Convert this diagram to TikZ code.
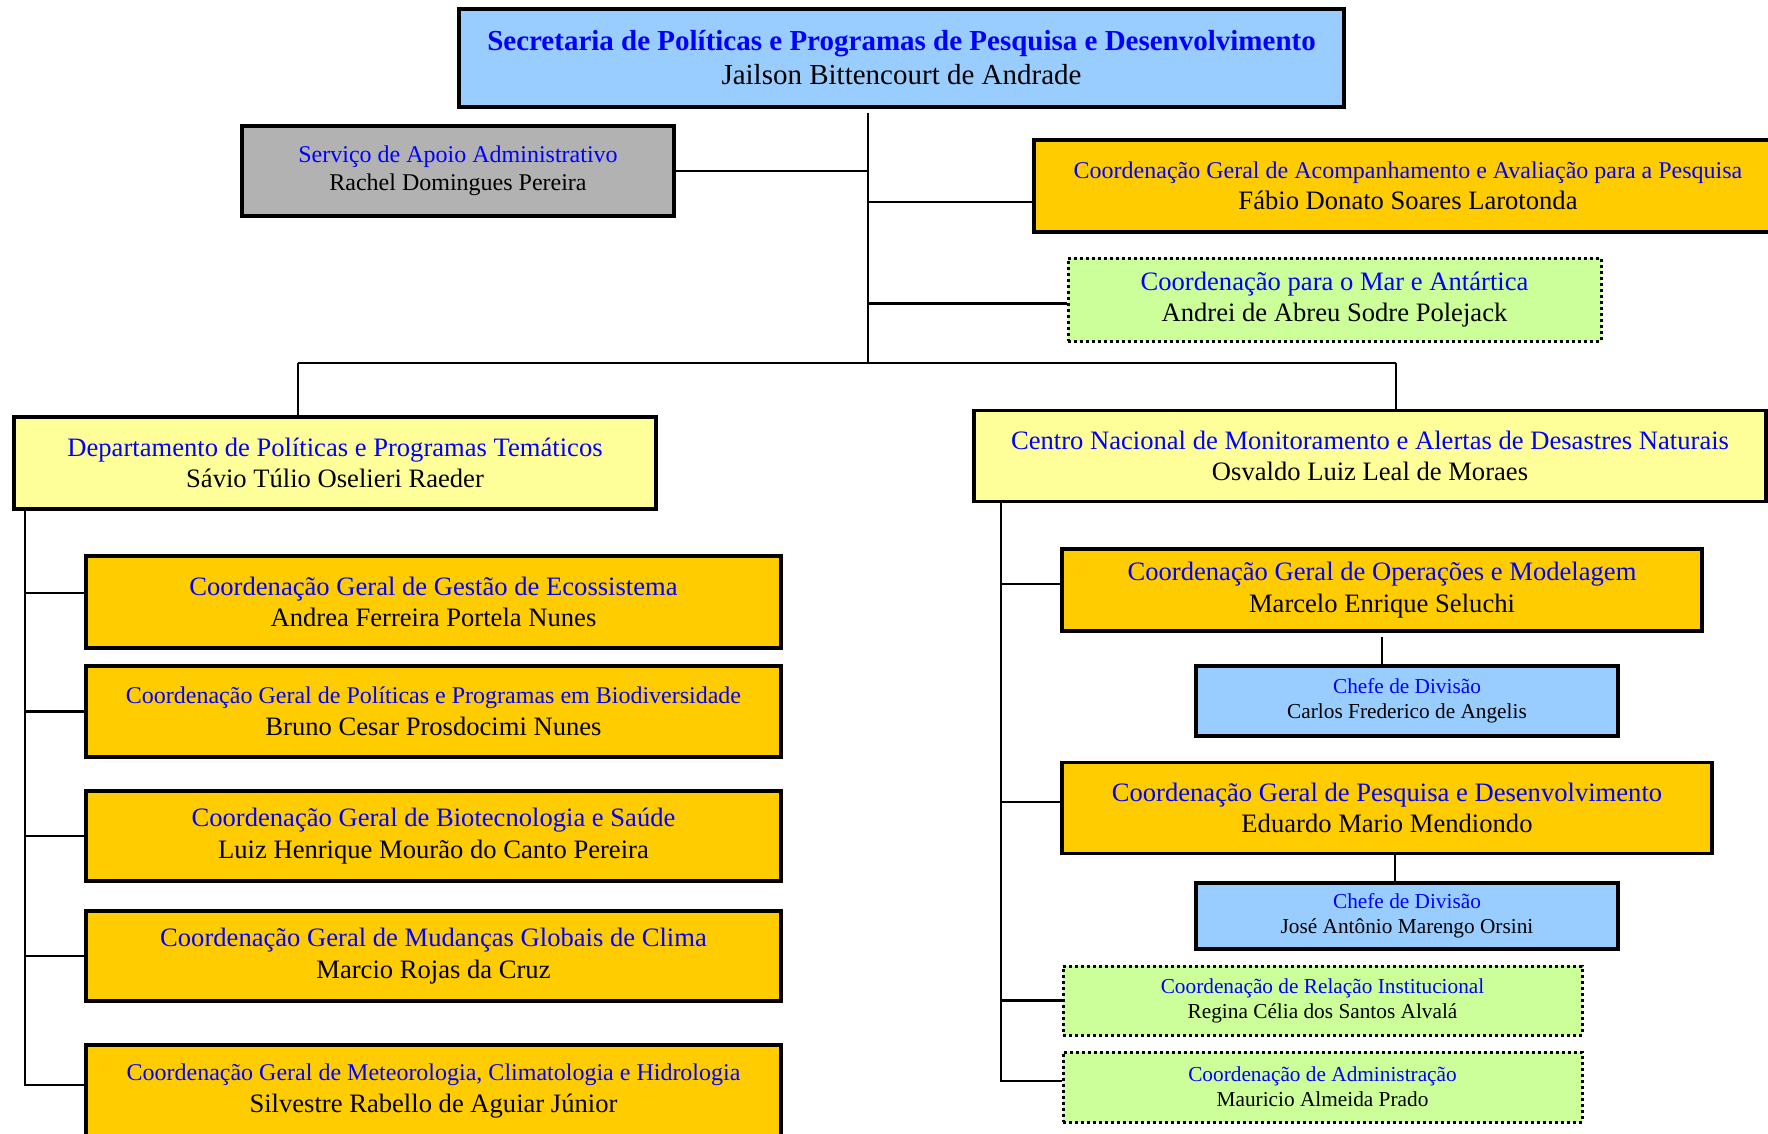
\documentclass[tikz,border=0pt]{standalone}
\usepackage{fontspec}
\setmainfont{Liberation Serif}
\usetikzlibrary{calc}
\usepackage{xcolor}
\definecolor{boxblue}{HTML}{99CCFF}
\definecolor{boxgray}{HTML}{B2B2B2}
\definecolor{boxorange}{HTML}{FFCC00}
\definecolor{boxyellow}{HTML}{FFFF99}
\definecolor{boxgreen}{HTML}{CCFF99}
\definecolor{ttlblue}{HTML}{0000FF}
\newcommand{\sztop}{\fontsize{29}{34}\selectfont}
\newcommand{\szbig}{\fontsize{26.6}{31.6}\selectfont}
\newcommand{\szmid}{\fontsize{24}{28}\selectfont}
\newcommand{\szsmall}{\fontsize{21.3}{25}\selectfont}
\newcommand{\ttl}[1]{\textcolor{ttlblue}{#1}}

\begin{document}
\begin{tikzpicture}[x=1pt, y=-1pt,
            unitbox/.style = {draw, line width=3.5pt, align=center, inner sep=0pt, font=\szbig},
            topbox/.style = {unitbox, fill=boxblue, font=\sztop, minimum width=885pt, minimum height=98pt},
            servbox/.style = {unitbox, fill=boxgray, font=\szmid},
            coordbox/.style = {unitbox, fill=boxorange},
            deptbox/.style = {unitbox, fill=boxyellow},
            divbox/.style = {unitbox, fill=boxblue, font=\szsmall, minimum width=422pt},
            greenbox/.style = {unitbox, fill=boxgreen, line width=3pt, dash pattern=on 3pt off 3pt},
            leftbox/.style = {coordbox, minimum width=695pt},
            link/.style = {line width=2.5pt}
            ]
            \useasboundingbox (0,0) rectangle (1768,1134);

            \coordinate (hub) at (868,363);
            \coordinate (busL) at (298,363);
            \coordinate (busR) at (1396,363);
            \coordinate (lbus) at (25,511);
            \coordinate (rbus) at (1001,503);

            \node[topbox] (sec) at (901.5,58)
                {\textbf{\ttl{Secretaria de Políticas e Programas de Pesquisa e Desenvolvimento}}\\Jailson Bittencourt de Andrade};
            \node[servbox, minimum width=432pt, minimum height=90pt] (serv) at (458,171)
                {\ttl{Serviço de Apoio Administrativo}\\Rachel Domingues Pereira};
            \node[coordbox, minimum width=748pt, minimum height=92pt] (acomp) at (1408,186)
                {\ttl{\szmid Coordenação Geral de Acompanhamento e Avaliação para a Pesquisa}\\Fábio Donato Soares Larotonda};
            \node[greenbox, minimum width=533pt, minimum height=83pt] (mar) at (1334.5,299.5)
                {\ttl{Coordenação para o Mar e Antártica}\\Andrei de Abreu Sodre Polejack};

            \node[deptbox, minimum width=642pt, minimum height=92pt] (dept) at (335,463)
                {\ttl{Departamento de Políticas e Programas Temáticos}\\Sávio Túlio Oselieri Raeder};
            \node[deptbox, minimum width=792pt, minimum height=91pt] (cemaden) at (1370,456)
                {\ttl{Centro Nacional de Monitoramento e Alertas de Desastres Naturais}\\Osvaldo Luiz Leal de Moraes};

            \node[leftbox, minimum height=92pt] (gestao) at (433.5,602)
                {\ttl{Coordenação Geral de Gestão de Ecossistema}\\Andrea Ferreira Portela Nunes};
            \node[leftbox, minimum height=91pt] (biodiv) at (433.5,711.5)
                {\ttl{\szmid Coordenação Geral de Políticas e Programas em Biodiversidade}\\Bruno Cesar Prosdocimi Nunes};
            \node[leftbox, minimum height=90pt] (biotec) at (433.5,836)
                {\ttl{Coordenação Geral de Biotecnologia e Saúde}\\Luiz Henrique Mourão do Canto Pereira};
            \node[leftbox, minimum height=90pt] (clima) at (433.5,956)
                {\ttl{Coordenação Geral de Mudanças Globais de Clima}\\Marcio Rojas da Cruz};
            \node[leftbox, minimum height=92pt] (meteo) at (433.5,1091)
                {\ttl{\szmid Coordenação Geral de Meteorologia, Climatologia e Hidrologia}\\Silvestre Rabello de Aguiar Júnior};

            \node[coordbox, minimum width=640pt, minimum height=82pt] (oper) at (1382,590)
                {\ttl{Coordenação Geral de Operações e Modelagem}\\Marcelo Enrique Seluchi};
            \node[divbox, minimum height=70pt] (div1) at (1407,701)
                {\ttl{Chefe de Divisão}\\Carlos Frederico de Angelis};
            \node[coordbox, minimum width=650pt, minimum height=91pt] (pesq) at (1387,808)
                {\ttl{Coordenação Geral de Pesquisa e Desenvolvimento}\\Eduardo Mario Mendiondo};
            \node[divbox, minimum height=66pt] (div2) at (1407,916)
                {\ttl{Chefe de Divisão}\\José Antônio Marengo Orsini};
            \node[greenbox, font=\szsmall, minimum width=519pt, minimum height=69pt] (relac) at (1322.5,1000.5)
                {\ttl{Coordenação de Relação Institucional}\\Regina Célia dos Santos Alvalá};
            \node[greenbox, font=\szsmall, minimum width=519pt, minimum height=70pt] (admin) at (1322.5,1087)
                {\ttl{Coordenação de Administração}\\Mauricio Almeida Prado};

            \draw[link] ([yshift=-4pt]sec.south -| hub) -- (hub);
            \draw[link] (serv.east) -- (serv.east -| hub);
            \draw[link] ([yshift=-16pt]acomp.west) -- ([yshift=-16pt]acomp.west -| hub);
            \draw[link] ([yshift=-4pt]mar.west) -- ([yshift=-4pt]mar.west -| hub);
            \draw[link] (busL) -- (busR);
            \draw[link] (busL) -- (busL |- dept.north);
            \draw[link] (busR) -- (busR |- cemaden.north);

            \draw[link] (dept.south -| lbus) -- ([yshift=6pt]meteo.west -| lbus) -- ([yshift=6pt]meteo.west);
            \draw[link] ([yshift=9pt]gestao.west) -- ([yshift=9pt]gestao.west -| lbus);
            \foreach \unit in {biodiv, biotec, clima}
                \draw[link] (\unit.west) -- (\unit.west -| lbus);

            \draw[link] (cemaden.south -| rbus) -- ([yshift=6pt]admin.west -| rbus) -- ([yshift=6pt]admin.west);
            \foreach \unit in {oper, pesq}
                \draw[link] ([yshift=6pt]\unit.west) -- ([yshift=6pt]\unit.west -| rbus);
            \draw[link] (relac.west) -- (relac.west -| rbus);

            \draw[link] ([yshift=-4pt]oper.south) -- (oper.south |- div1.north);
            \draw[link] ([xshift=8pt]pesq.south) -- ([xshift=8pt]pesq.south |- div2.north);
\end{tikzpicture}
\end{document}
